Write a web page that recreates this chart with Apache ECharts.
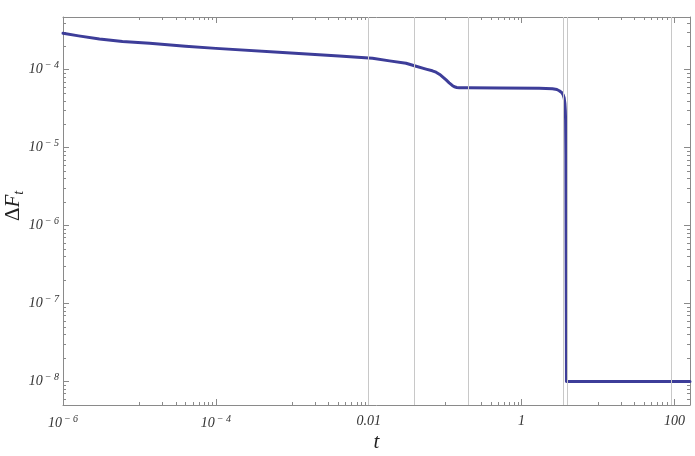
<!DOCTYPE html>
<html>
<head>
<meta charset="utf-8">
<script src="https://cdn.jsdelivr.net/npm/echarts@6/dist/echarts.min.js"></script>
<style>html,body{margin:0;padding:0;background:#fff;}#c{width:695px;height:456px;}</style>
</head>
<body>
<div id="c"></div>
<script>
// ---- data ----
const tValues = [1e-6, 1.6e-6, 3e-6, 6e-6, 1.36e-5, 4e-5, 1e-4, 7.5e-4, 4.1e-3, 0.0112, 0.0187, 0.0308, 0.0396, 0.0562, 0.068, 0.076, 0.085, 0.0927, 0.103, 0.113, 0.124, 0.132, 0.142, 0.153, 0.2, 0.51, 1.7, 2.54, 2.9, 3.11, 3.35, 3.51, 3.62, 3.69, 3.74, 3.77, 3.8, 3.82, 3.85, 3.87, 160];
const dfValues = [2.93e-4, 2.72e-4, 2.48e-4, 2.3e-4, 2.18e-4, 2.0e-4, 1.88e-4, 1.67e-4, 1.5e-4, 1.4e-4, 1.3e-4, 1.21e-4, 1.125e-4, 1.02e-4, 9.7e-5, 9.3e-5, 8.7e-5, 8.1e-5, 7.4e-5, 6.8e-5, 6.3e-5, 6.05e-5, 5.93e-5, 5.88e-5, 5.87e-5, 5.85e-5, 5.8e-5, 5.7e-5, 5.58e-5, 5.38e-5, 5.1e-5, 4.74e-5, 4.3e-5, 3.7e-5, 3.0e-5, 2.26e-5, 8e-6, 1e-6, 8e-8, 1e-8, 1e-8];
const gridLineT = [0.0089, 0.0396, 0.197, 3.55, 4.0, 90];
const xMajorTicks = [1e-6, 1e-4, 1e-2, 1, 100];
const xMajorLabels = ['10^-6', '10^-4', '0.01', '1', '100'];
const yMajorTicks = [1e-8, 1e-7, 1e-6, 1e-5, 1e-4];
const yMajorLabels = ['10^-8', '10^-7', '10^-6', '10^-5', '10^-4'];
const xMinorDecades = [-5, -3, -1, 1];
const yMinorDecades = [-9, -8, -7, -6, -5, -4];
const mantissas = [1, 2, 3, 4, 5, 6, 7, 8, 9];
const xRange = [1e-6, 160];
const yRange = [5e-9, 4.75e-4];

const xMinor = [];
xMinorDecades.forEach(e => mantissas.forEach(m => { const v = m * Math.pow(10, e); if (v > xRange[0] && v < xRange[1]) xMinor.push(v); }));
const yMinor = [];
yMinorDecades.forEach(e => mantissas.slice(1).forEach(m => { const v = m * Math.pow(10, e); if (v > yRange[0] && v < yRange[1]) yMinor.push(v); }));

const frameColor = '#8a8a8a';
const serif = '"Liberation Serif", "DejaVu Serif", serif';

function fmt(ticks, labels) {
  return function (v) {
    let idx = -1;
    ticks.forEach((t, i) => { if (Math.abs(Math.log10(v) - Math.log10(t)) < 1e-6) idx = i; });
    if (idx < 0) return '';
    const s = labels[idx];
    if (s.indexOf('^') >= 0) {
      const p = s.split('^');
      return '{b|' + p[0] + '}{s|' + p[1].replace('-', '\u2212 ') + '}';
    }
    return '{b|' + s + '}';
  };
}
const labelRich = {
  b: { fontFamily: serif, fontStyle: 'italic', fontSize: 14, color: '#333' },
  s: { fontFamily: serif, fontStyle: 'italic', fontSize: 10, color: '#333', padding: [0, 0, 9, 2] }
};

function xAx(pos, major, showLine, showLabel) {
  return {
    type: 'log', logBase: 10, position: pos, min: xRange[0], max: xRange[1],
    axisLine: { show: showLine, onZero: false, lineStyle: { color: frameColor, width: 1 } },
    axisTick: { show: true, inside: true, length: major ? 6 : 3, customValues: major ? xMajorTicks : xMinor, lineStyle: { color: frameColor } },
    axisLabel: showLabel ? { show: true, customValues: xMajorTicks, formatter: fmt(xMajorTicks, xMajorLabels), rich: labelRich, margin: 9 } : { show: false },
    splitLine: { show: false }, minorTick: { show: false }
  };
}
function yAx(pos, major, showLine, showLabel) {
  return {
    type: 'log', logBase: 10, position: pos, min: yRange[0], max: yRange[1],
    axisLine: { show: showLine, onZero: false, lineStyle: { color: frameColor, width: 1 } },
    axisTick: { show: true, inside: true, length: major ? 6 : 3, customValues: major ? yMajorTicks : yMinor, lineStyle: { color: frameColor } },
    axisLabel: showLabel ? { show: true, customValues: yMajorTicks, formatter: fmt(yMajorTicks, yMajorLabels), rich: labelRich, margin: 4 } : { show: false },
    splitLine: { show: false }, minorTick: { show: false }
  };
}

const xAxes = [xAx('bottom', true, true, true), xAx('bottom', false, false, false), xAx('top', true, true, false), xAx('top', false, false, false)];
xAxes[0].name = 't';
xAxes[0].nameLocation = 'middle';
xAxes[0].nameGap = 27;
xAxes[0].nameMoveOverlap = false;
xAxes[0].nameTextStyle = { fontFamily: serif, fontStyle: 'italic', fontSize: 21, color: '#222' };
const yAxes = [yAx('left', true, true, true), yAx('left', false, false, false), yAx('right', true, true, false), yAx('right', false, false, false)];
yAxes[0].name = '{d|\u0394}{f|F}{t|t}';
yAxes[0].nameLocation = 'middle';
yAxes[0].nameRotate = 90;
yAxes[0].nameGap = 37;
yAxes[0].nameMoveOverlap = false;
yAxes[0].nameTextStyle = {
  padding: [0, 0, 0, 10],
  rich: {
    d: { fontFamily: serif, fontSize: 21, color: '#222' },
    f: { fontFamily: serif, fontStyle: 'italic', fontSize: 21, color: '#222' },
    t: { fontFamily: serif, fontStyle: 'italic', fontSize: 14, color: '#222', padding: [12, 0, 0, 0] }
  }
};

const chart = echarts.init(document.getElementById('c'), null, { renderer: 'canvas' });
chart.setOption({
  backgroundColor: '#fff',
  animation: false,
  grid: { left: 63, right: 5, top: 17, bottom: 51, containLabel: false, outerBoundsMode: 'none' },
  xAxis: xAxes,
  yAxis: yAxes,
  series: [
    {
      type: 'line', xAxisIndex: 0, yAxisIndex: 0, data: [], z: 1, silent: true,
      markLine: {
        silent: true, symbol: ['none', 'none'], label: { show: false },
        lineStyle: { color: '#c8c8c8', width: 1, type: 'solid' },
        data: gridLineT.map(v => ({ xAxis: v }))
      }
    },
    {
      type: 'line', xAxisIndex: 0, yAxisIndex: 0, z: 3,
      data: tValues.map((t, i) => [t, dfValues[i]]),
      showSymbol: false, smooth: false,
      lineStyle: { color: '#3d3d99', width: 3, join: 'round', cap: 'round' }
    }
  ]
});
</script>
</body>
</html>
